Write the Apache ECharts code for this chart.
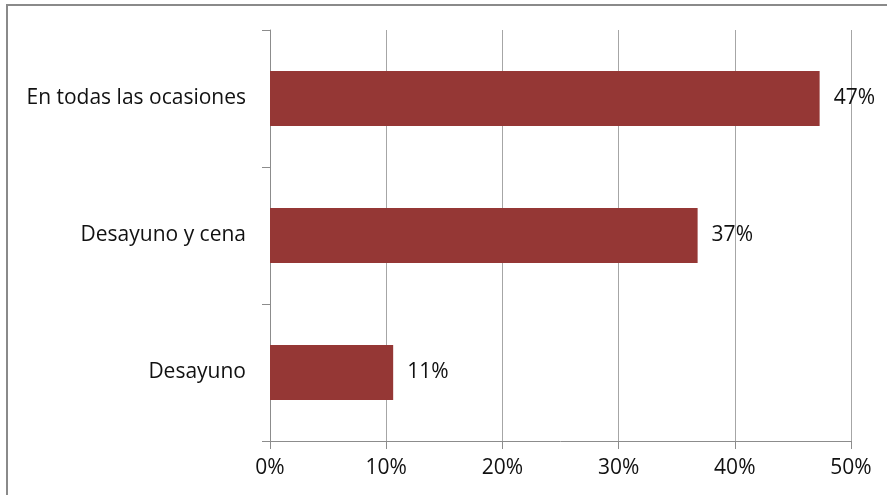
<!DOCTYPE html>
<html>
<head>
<meta charset="utf-8">
<script src="https://cdn.jsdelivr.net/npm/echarts@6/dist/echarts.min.js"></script>
<style>
html,body{margin:0;padding:0;background:#fff;}
#chart{width:887px;height:495px;}
</style>
</head>
<body>
<div id="chart"></div>
<script>
var categories = ['Desayuno', 'Desayuno y cena', 'En todas las ocasiones'];
var values = [10.6, 36.8, 47.3];
var xTicks = [0, 10, 20, 30, 40, 50];

var chart = echarts.init(document.getElementById('chart'), null, {renderer: 'canvas'});
var font = '"Open Sans", "Noto Sans", sans-serif';
var fs = 21;
chart.setOption({
  animation: false,
  backgroundColor: '#fff',
  graphic: [{
    type: 'rect',
    shape: {x: 7, y: 5, width: 1000, height: 700},
    style: {fill: 'none', stroke: '#8a8a8a', lineWidth: 2}
  }],
  grid: {left: 270, right: 36, top: 30, bottom: 54},
  xAxis: {
    type: 'value',
    min: xTicks[0],
    max: xTicks[xTicks.length - 1],
    interval: 10,
    axisLine: {show: true, lineStyle: {color: '#8c8c8c', width: 1}},
    axisTick: {show: true, length: 8, lineStyle: {color: '#8c8c8c'}},
    splitLine: {show: true, lineStyle: {color: '#a6a6a6', width: 1}},
    axisLabel: {
      margin: 17, color: '#111', fontFamily: font, fontSize: fs,
      formatter: function (v) { return v + '%'; }
    }
  },
  yAxis: {
    type: 'category',
    data: categories,
    axisLine: {show: true, lineStyle: {color: '#8c8c8c', width: 1}},
    axisTick: {show: true, length: 8, lineStyle: {color: '#8c8c8c'}},
    axisLabel: {margin: 24, color: '#111', fontFamily: font, fontSize: fs, padding: [6, 0, 0, 0]}
  },
  series: [{
    type: 'bar',
    data: values,
    barWidth: '40%',
    itemStyle: {color: '#953735'},
    label: {
      show: true, position: 'right', distance: 14, padding: [6, 0, 0, 0],
      color: '#111', fontFamily: font, fontSize: fs,
      formatter: function (p) { return Math.round(p.value) + '%'; }
    }
  }]
});
</script>
</body>
</html>
